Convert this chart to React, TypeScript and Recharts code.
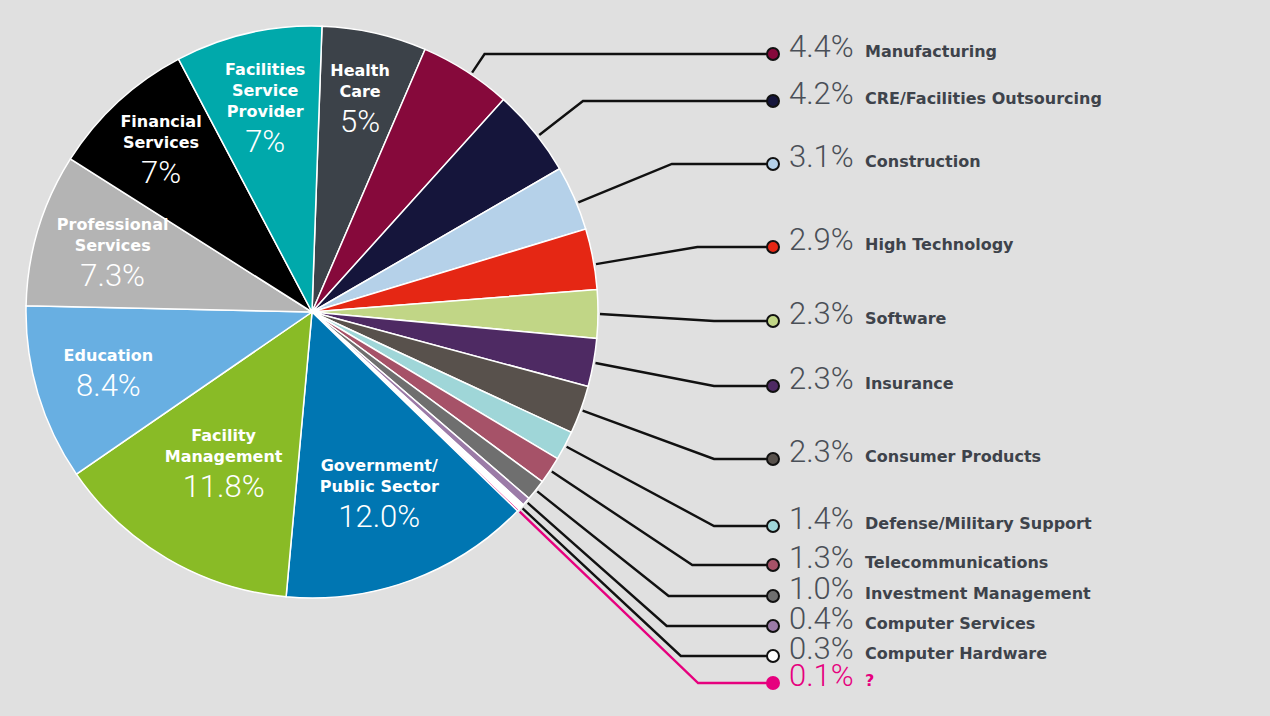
import { Cell, Pie, PieChart } from "recharts";

document.body.style.margin = "0";

// Sectors clockwise, starting just right of 12 o'clock
const names = [
  "Health\nCare",
  "Manufacturing",
  "CRE/Facilities Outsourcing",
  "Construction",
  "High Technology",
  "Software",
  "Insurance",
  "Consumer Products",
  "Defense/Military Support",
  "Telecommunications",
  "Investment Management",
  "Computer Services",
  "Computer Hardware",
  "?",
  "Government/\nPublic Sector",
  "Facility\nManagement",
  "Education",
  "Professional\nServices",
  "Financial\nServices",
  "Facilities\nService\nProvider",
];
const values = [5, 4.4, 4.2, 3.1, 2.9, 2.3, 2.3, 2.3, 1.4, 1.3, 1.0, 0.4, 0.3, 0.1, 12.0, 11.8, 8.4, 7.3, 7, 7];
const pctLabels = [
  "5%", "4.4%", "4.2%", "3.1%", "2.9%", "2.3%", "2.3%", "2.3%", "1.4%", "1.3%",
  "1.0%", "0.4%", "0.3%", "0.1%", "12.0%", "11.8%", "8.4%", "7.3%", "7%", "7%",
];
const colors = [
  "#3c4249", "#86093b", "#15153b", "#b5d1e9", "#e52714", "#c1d686", "#4e2a63",
  "#58514c", "#9fd6d8", "#a65268", "#6f6f6f", "#9b7ba7", "#ffffff", "#e6007e",
  "#0076b2", "#89bb26", "#68afe2", "#b4b4b4", "#000000", "#00a9ab",
];

// layout: inner labels sit at a fraction of the radius, the rest go to the legend column
const labelRadius: (number | null)[] = [
  0.767, null, null, null, null, null, null, null, null, null,
  null, null, null, null, 0.676, 0.612, 0.743, 0.728, 0.778, 0.732,
];
const legendY: (number | null)[] = [
  null, 54, 101, 164, 247, 321, 386, 459, 526, 565,
  596, 626, 656, 683, null, null, null, null, null, null,
];

const rows = names.map((name, i) => ({ name, value: values[i] }));

const RAD = Math.PI / 180;
const ACCENT = "#e6007e";
const boldFont = { fontFamily: "'DejaVu Sans', sans-serif", fontWeight: 700, fontSize: 16 };
const lightFont = { fontFamily: "Roboto, 'Open Sans', sans-serif", fontWeight: 300, fontSize: 31 };

function renderLabel(p: any) {
  const { cx, cy, midAngle, outerRadius, index } = p;

  const lr = labelRadius[index];
  if (lr != null) {
    const lines = names[index].split("\n");
    const x = cx + outerRadius * lr * Math.cos(-midAngle * RAD);
    const ym = cy + outerRadius * lr * Math.sin(-midAngle * RAD);
    const h = 12 + (lines.length - 1) * 21 + 35;
    const y0 = ym - h / 2 + 12;
    return (
      <g key={"in" + index}>
        {lines.map((l, i) => (
          <text key={i} x={x} y={y0 + i * 21} textAnchor="middle" fill="#fff" style={boldFont}>
            {l}
          </text>
        ))}
        <text x={x} y={y0 + (lines.length - 1) * 21 + 35} textAnchor="middle" fill="#fff" style={lightFont}>
          {pctLabels[index]}
        </text>
      </g>
    );
  }

  // leaders in the upper half lean a touch clockwise, as in the original
  const a = midAngle > 0 ? midAngle - 1.1 : midAngle;
  const cos = Math.cos(-a * RAD);
  const sin = Math.sin(-a * RAD);
  const ry = legendY[index] as number;
  const sx = cx + (outerRadius + 2) * cos;
  const sy = cy + (outerRadius + 2) * sin;
  let ex = 714;
  if (Math.abs(sin) > 1e-6) {
    const t = (ry - sy) / sin;
    if (t > 0) ex = Math.min(714, sx + t * cos);
  }
  const mx = 773;
  const accent = names[index] === "?";
  const lineColor = accent ? ACCENT : "#111";
  return (
    <g key={"out" + index}>
      <polyline
        points={`${sx},${sy} ${ex},${ry} ${mx},${ry}`}
        fill="none"
        stroke={lineColor}
        strokeWidth={2.4}
      />
      <circle cx={mx} cy={ry} r={6} fill={colors[index]} stroke={lineColor} strokeWidth={2} />
      <text x={789} y={ry + 3} fill={accent ? ACCENT : "#4a4f57"} style={lightFont}>
        {pctLabels[index]}
      </text>
      <text x={865} y={ry + 3} fill={accent ? ACCENT : "#3e434b"} style={boldFont}>
        {names[index]}
      </text>
    </g>
  );
}

export default function App() {
  return (
    <div style={{ width: 1270, height: 716, background: "#e0e0e0" }}>
      <PieChart
        width={1270}
        height={716}
        margin={{ top: 0, right: 0, bottom: 0, left: 0 }}
        style={{ display: "block" }}
      >
        <Pie
          data={rows}
          dataKey="value"
          nameKey="name"
          cx={312}
          cy={312}
          outerRadius={286}
          startAngle={88}
          endAngle={-272}
          stroke="#ffffff"
          strokeWidth={1.5}
          labelLine={false}
          label={renderLabel}
          isAnimationActive={false}
        >
          {rows.map((r, i) => (
            <Cell key={r.name} fill={colors[i]} />
          ))}
        </Pie>
      </PieChart>
    </div>
  );
}
